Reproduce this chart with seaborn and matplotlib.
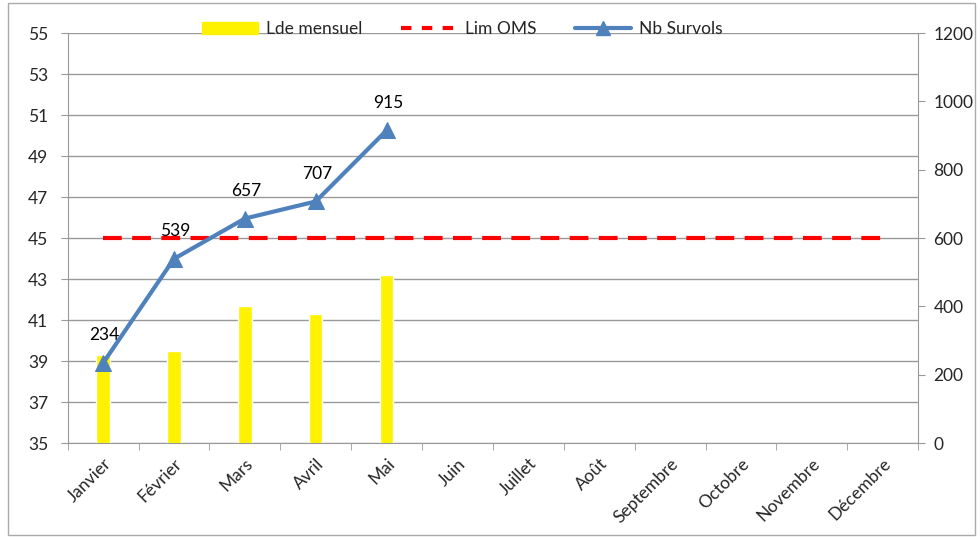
import numpy as np
import pandas as pd
import matplotlib.pyplot as plt
import matplotlib.patches as mpatches
import matplotlib.lines as mlines
import seaborn as sns

months = ['Janvier', 'Février', 'Mars', 'Avril', 'Mai', 'Juin', 'Juillet',
          'Août', 'Septembre', 'Octobre', 'Novembre', 'Décembre']
lde_mensuel = [39.3, 39.5, 41.7, 41.3, 43.2, 0, 0, 0, 0, 0, 0, 0]
lim_oms = [45] * 12
nb_survols = [234, 539, 657, 707, 915]

sns.set_style('white')
plt.rcParams['font.family'] = ['Lato', 'DejaVu Sans']

grid_col = '#999999'
fs = 12.5

fig = plt.figure(figsize=(9.8, 5.37), dpi=100)
ax = fig.add_axes([0.069, 0.175, 0.868, 0.7635])

df = pd.DataFrame({'mois': months, 'lde': lde_mensuel})
sns.barplot(data=df, x='mois', y='lde', color='#FFF200', saturation=1,
            width=0.19, ax=ax, zorder=2)

# limite OMS
sns.lineplot(x=np.arange(len(months)), y=lim_oms, ax=ax, color='#FF0000',
             lw=3, dashes=False, zorder=3)
ax.lines[-1].set_dashes([4.5, 2.5])

ax.set_ylim(35, 55)
ax.set_yticks(np.arange(35, 56, 2))
ax.set_xlim(-0.5, 11.5)
ax.set_xlabel('')
ax.set_ylabel('')
ax.yaxis.grid(True, color=grid_col, lw=1)
ax.set_axisbelow(True)
for s in ['left', 'bottom', 'right']:
    ax.spines[s].set_color(grid_col)
ax.spines['top'].set_visible(False)
ax.tick_params(axis='y', which='major', direction='out', length=5,
               color=grid_col, labelsize=fs, pad=9, left=True)
ax.set_xticks(np.arange(12))
ax.set_xticklabels(months, rotation=45, ha='right', rotation_mode='anchor',
                   fontsize=fs)
ax.tick_params(axis='x', which='major', length=0, pad=9)
ax.set_xticks(np.arange(-0.5, 12, 1), minor=True)
ax.tick_params(axis='x', which='minor', direction='out', length=5,
               color=grid_col, bottom=True)

# survols, axe secondaire
ax2 = ax.twinx()
sns.lineplot(x=np.arange(len(nb_survols)), y=nb_survols, ax=ax2,
             color='#4F81BD', lw=3, marker='^', markersize=11,
             markeredgecolor='#4F81BD', zorder=4)
ax2.set_ylim(0, 1200)
ax2.set_yticks(np.arange(0, 1201, 200))
ax2.set_ylabel('')
for s in ['left', 'bottom', 'right', 'top']:
    ax2.spines[s].set_visible(False)
ax2.tick_params(axis='y', direction='out', length=5, color=grid_col,
                labelsize=fs, pad=6, right=True)
for i, v in enumerate(nb_survols):
    ax2.annotate(str(v), (i, v), xytext=(1, 20), textcoords='offset points',
                 ha='center', va='center', fontsize=fs, color='black')

handles = [
    mpatches.Patch(color='#FFF200', label='Lde mensuel'),
    mlines.Line2D([], [], color='#FF0000', lw=3, dashes=[2.5, 2.5], label='Lim OMS'),
    mlines.Line2D([], [], color='#4F81BD', lw=3, marker='^', markersize=10,
                  label='Nb Survols'),
]
fig.legend(handles=handles, loc='center', bbox_to_anchor=(0.472, 0.946), ncol=3,
           frameon=False, fontsize=fs, handlelength=3.2, columnspacing=2.2,
           handletextpad=0.5)

fig.patches.append(mpatches.Rectangle((0.008, 0.004), 0.987, 0.99,
                                      transform=fig.transFigure, fill=False,
                                      edgecolor='#AAAAAA', lw=1))

fig.savefig('out.png', dpi=100)
